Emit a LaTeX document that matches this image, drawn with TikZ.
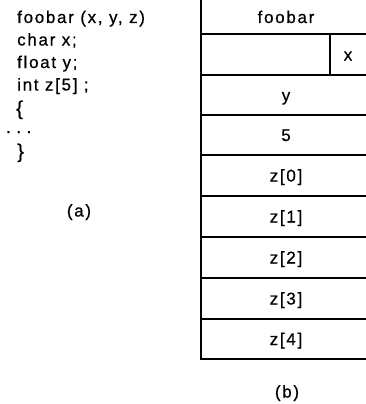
\documentclass[tikz,border=0pt]{standalone}
\usepackage{fontspec}
\setmainfont{Liberation Sans}[LetterSpace=10,FakeBold=0.6]
\begin{document}
\begin{tikzpicture}[x=1pt,y=-1pt,
  txt/.style={inner sep=0pt, font=\fontsize{17}{20}\selectfont},
  codeline/.style={txt, anchor=base west},
  cell/.style={txt, anchor=base},
  innerline/.style={line width=1.3pt},
  outerline/.style={line width=2.6pt}]
\useasboundingbox (0,0) rectangle (366,404);
% code listing
\node[codeline] (c1) at (17,23) {foobar (x, y, z)};
\node[codeline] (c2) at (17,45.5) {char x;};
\node[codeline] (c3) at (17,68) {float y;};
\node[codeline] (c4) at (17,90.5) {int z[5] ;};
\node[codeline, font=\fontsize{20}{22}\selectfont] (c5) at (16,115) {\{};
\node[codeline] (c6) at (6,133) {.\kern5.5pt.\kern5.5pt.};
\node[codeline, font=\fontsize{20}{22}\selectfont] (c7) at (17,158) {\}};
\node[cell] (la) at (79,216.5) {(a)};
% frame
\coordinate (tl) at (201,0);
\coordinate (bl) at (201,359);
\coordinate (br) at (366,359);
\foreach \yy/\nm in {34/h1,75/h2,115/h3,155/h4,196/h5,237/h6,278/h7,319/h8}{
  \coordinate (\nm l) at (201,\yy);
  \coordinate (\nm r) at (366,\yy);
  \draw[innerline] (\nm l) -- (\nm r);
}
\coordinate (d1) at (330,34);
\coordinate (d2) at (330,75);
\draw[innerline] (d1) -- (d2);
\draw[outerline] (tl) -- (bl) -- (br);
% cell labels
\node[cell] (foobar) at (286,23) {foobar};
\node[cell] (x) at (348,60.5) {x};
\node[cell] (y) at (286,101) {y};
\node[cell] (five) at (286,141) {5};
\node[cell] (z0) at (286,181.5) {z[0]};
\node[cell] (z1) at (286,222.5) {z[1]};
\node[cell] (z2) at (286,263.5) {z[2]};
\node[cell] (z3) at (286,304.5) {z[3]};
\node[cell] (z4) at (286,345) {z[4]};
\node[cell] (lb) at (287,397.5) {(b)};
\end{tikzpicture}
\end{document}
